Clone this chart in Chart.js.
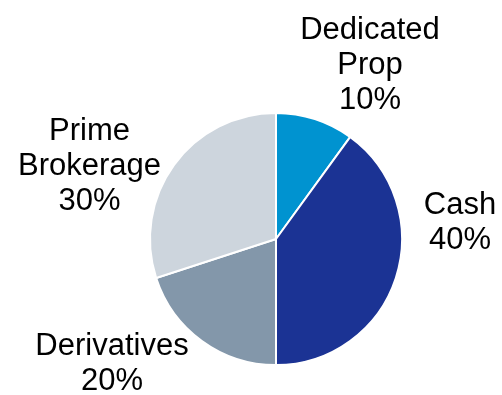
<!DOCTYPE html>
<html>
<head>
<meta charset="utf-8">
<script src="https://cdn.jsdelivr.net/npm/chart.js@4/dist/chart.umd.min.js"></script>
<style>
  html, body { margin: 0; padding: 0; background: #fff; }
  canvas { display: block; }
</style>
</head>
<body>
<canvas id="mixChart" width="502" height="395"></canvas>
<script>
// revenue mix by business line
const segments = ['Dedicated Prop', 'Cash', 'Derivatives', 'Prime Brokerage'];
const labelLines = [['Dedicated', 'Prop'], ['Cash'], ['Derivatives'], ['Prime', 'Brokerage']];
const shares = [10, 40, 20, 30];
const sliceColors = ['#0093d0', '#1b3394', '#8397aa', '#cdd5dd'];

// where each label block sits, relative to the pie centre (first baseline)
const labelOffsets = [
    { dx: 94, dy: -200.5 },
    { dx: 184, dy: -25.5 },
    { dx: -164, dy: 116 },
    { dx: -186.5, dy: -99 }
];
const lineGap = 35;

const sliceLabels = {
    id: 'sliceLabels',
    afterDatasetsDraw(chart) {
        const ctx = chart.ctx;
        const meta = chart.getDatasetMeta(0);
        ctx.save();
        ctx.font = '31px "Liberation Sans", Arial, sans-serif';
        ctx.fillStyle = '#000';
        ctx.textAlign = 'center';
        ctx.textBaseline = 'alphabetic';
        meta.data.forEach((arc, i) => {
            const lines = labelLines[i].concat([shares[i] + '%']);
            const x = arc.x + labelOffsets[i].dx;
            let y = arc.y + labelOffsets[i].dy;
            lines.forEach(line => {
                ctx.fillText(line, x, y);
                y += lineGap;
            });
        });
        ctx.restore();
    }
};

new Chart(document.getElementById('mixChart'), {
    type: 'pie',
    data: {
        labels: segments,
        datasets: [{
            data: shares,
            backgroundColor: sliceColors,
            borderColor: '#ffffff',
            borderWidth: 2
        }]
    },
    options: {
        responsive: false,
        animation: false,
        layout: {
            padding: { left: 149, right: 99, top: 112, bottom: 29 }
        },
        plugins: {
            legend: { display: false },
            tooltip: { enabled: false }
        }
    },
    plugins: [sliceLabels]
});
</script>
</body>
</html>
